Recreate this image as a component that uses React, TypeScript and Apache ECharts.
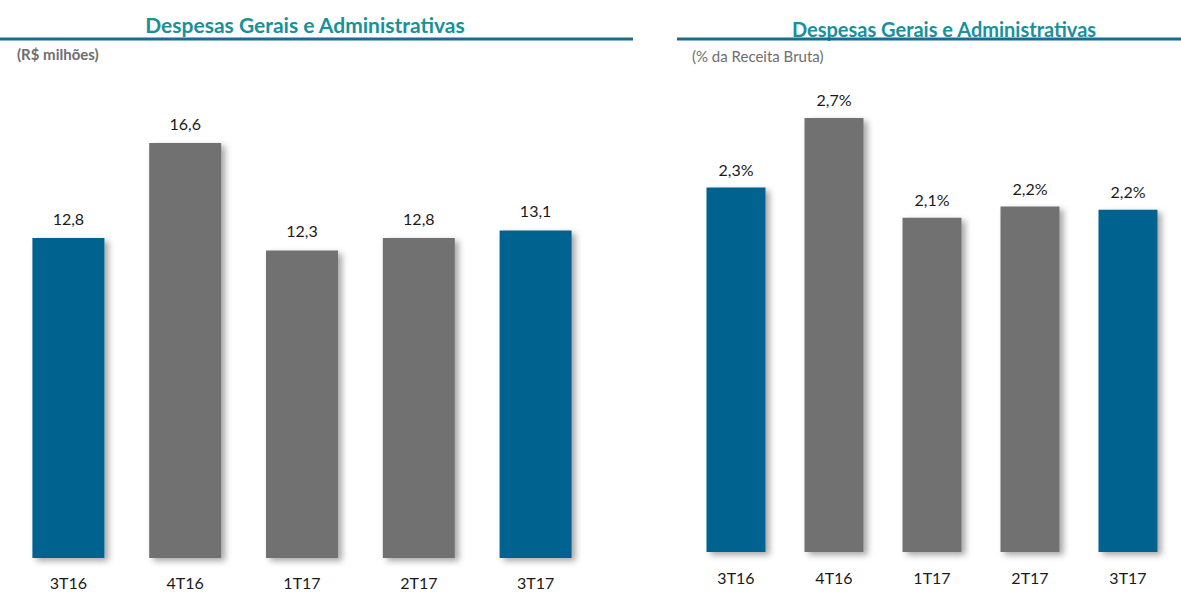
import React, { useEffect, useRef } from "react";
import * as echarts from "echarts";

const categories = ["3T16", "4T16", "1T17", "2T17", "3T17"];
const valuesMillions = [12.8, 16.6, 12.3, 12.8, 13.1];
const valuesPercent = [2.3, 2.74, 2.11, 2.18, 2.16];
const highlighted = ["3T16", "3T17"];

const titleText = "Despesas Gerais e Administrativas";
const leftSubtitle = "(R$ milhões)";
const rightSubtitle = "(% da Receita Bruta)";

const BLUE = "#00628f";
const GRAY = "#717171";
const TEAL = "#17919a";
const LINE = "#1d6a94";
const FONT = "Lato, 'Noto Sans', sans-serif";

const fmt = (v: number) => (Math.round(v * 10) / 10).toFixed(1).replace(".", ",");

export default function App() {
  const ref = useRef<HTMLDivElement>(null);
  useEffect(() => {
    if (!ref.current) return;
    const chart = echarts.init(ref.current, null, { renderer: "svg" });
    const barItem = (v: number, i: number) => ({
      value: v,
      itemStyle: {
        color: highlighted.includes(categories[i]) && (i === 0 || i === categories.length - 1) ? BLUE : GRAY,
        shadowColor: "rgba(0,0,0,0.35)",
        shadowBlur: 6,
        shadowOffsetX: 4,
        shadowOffsetY: 3,
      },
    });
    const axisCommon = {
      type: "category" as const,
      data: categories,
      axisLine: { show: false },
      axisTick: { show: false },
      axisLabel: { color: "#1a1a1a", fontSize: 16, fontFamily: FONT, margin: 16 },
    };
    const yCommon = {
      type: "value" as const,
      min: 0,
      axisLine: { show: false },
      axisTick: { show: false },
      axisLabel: { show: false },
      splitLine: { show: false },
    };
    chart.setOption({
      animation: false,
      backgroundColor: "#ffffff",
      grid: [
        { left: 10, right: 587, top: 58, bottom: 36 },
        { left: 687, right: 4, top: 45, bottom: 42 },
      ],
      xAxis: [
        { ...axisCommon, gridIndex: 0 },
        { ...axisCommon, gridIndex: 1, axisLabel: { ...axisCommon.axisLabel, margin: 17 } },
      ],
      yAxis: [
        { ...yCommon, gridIndex: 0, max: 20 },
        { ...yCommon, gridIndex: 1, max: 3.2 },
      ],
      series: [
        {
          type: "bar",
          xAxisIndex: 0,
          yAxisIndex: 0,
          barWidth: 72,
          data: valuesMillions.map(barItem),
          label: {
            show: true,
            position: "top",
            distance: 12,
            color: "#1a1a1a",
            fontSize: 16,
            fontFamily: FONT,
            formatter: (p: any) => fmt(p.value),
          },
        },
        {
          type: "bar",
          xAxisIndex: 1,
          yAxisIndex: 1,
          barWidth: 59,
          data: valuesPercent.map(barItem),
          label: {
            show: true,
            position: "top",
            distance: 10,
            color: "#1a1a1a",
            fontSize: 16,
            fontFamily: FONT,
            formatter: (p: any) => fmt(p.value) + "%",
          },
        },
      ],
      graphic: [
        {
          type: "text",
          x: 305,
          y: 24,
          style: {
            text: titleText,
            fill: TEAL,
            font: `bold 21px ${FONT}`,
            align: "center",
            verticalAlign: "middle",
          },
        },
        {
          type: "line",
          shape: { x1: 0, y1: 39, x2: 633, y2: 39 },
          style: { stroke: LINE, lineWidth: 3 },
        },
        {
          type: "text",
          x: 17,
          y: 54,
          style: {
            text: leftSubtitle,
            fill: "#6e6e6e",
            font: `bold 15px ${FONT}`,
            verticalAlign: "middle",
          },
        },
        {
          type: "text",
          x: 944,
          y: 29,
          style: {
            text: titleText,
            fill: TEAL,
            font: `bold 20px ${FONT}`,
            align: "center",
            verticalAlign: "middle",
          },
        },
        {
          type: "line",
          shape: { x1: 677, y1: 39, x2: 1181, y2: 39 },
          style: { stroke: LINE, lineWidth: 3 },
        },
        {
          type: "text",
          x: 692,
          y: 56,
          style: {
            text: rightSubtitle,
            fill: "#6e6e6e",
            font: `15px ${FONT}`,
            verticalAlign: "middle",
          },
        },
      ],
    });
    return () => chart.dispose();
  }, []);
  return (
    <div
      ref={ref}
      style={{ position: "fixed", left: 0, top: 0, width: 1181, height: 594 }}
    />
  );
}
